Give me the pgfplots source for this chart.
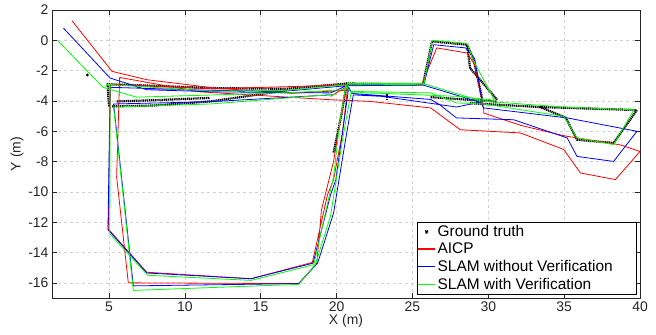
\documentclass[border=0pt]{standalone}
\usepackage{fontspec}
\setmainfont{Liberation Sans}
\usepackage{pgfplots}
\pgfplotsset{compat=1.18}
\definecolor{axgray}{RGB}{38,38,38}
\definecolor{gridgray}{RGB}{210,210,210}
\definecolor{mygreen}{RGB}{0,255,0}
\definecolor{myred}{RGB}{255,0,0}
\pgfplotsset{gt/.style={black, line width=2.2bp, dash pattern=on 1.2bp off 0.7bp}}
\begin{document}
\begin{tikzpicture}
\begin{axis}[
  scale only axis, width=588bp, height=288bp,
  xmin=1.24, xmax=40, ymin=-17, ymax=2,
  xtick={5,10,...,40}, ytick={-16,-14,...,2},
  tick align=inside, xtick pos=both, ytick pos=both,
  major tick length=5bp,
  grid=major, grid style={dashed, gridgray, line width=0.5pt},
  axis line style={axgray, line width=0.6pt},
  tick style={axgray, line width=0.6pt},
  ticklabel style={font=\fontsize{14}{16}\selectfont, text=axgray},
  /pgf/number format/assume math mode=true,
  xlabel={X (m)}, ylabel={Y (m)},
  label style={font=\fontsize{14}{16}\selectfont, text=axgray},
  xlabel style={yshift=4bp}, ylabel style={yshift=-2bp},
  legend style={at={(1,0)}, anchor=south east, xshift=-3bp, yshift=3bp,
    font=\fontsize{15.5}{18}\selectfont, draw=black, line width=0.6pt,
    inner xsep=0bp, inner ysep=1.5bp, row sep=1.2bp},
  legend cell align=left,
  every axis plot/.append style={line join=round},
]
% Ground truth
\addplot[gt, legend image code/.code={\fill[black] (0.3cm,0cm) circle (1.1bp);}]
  coordinates {(4.85,-2.9) (8,-3.0) (11.7,-3.15) (16.7,-3.2) (20.68,-2.85) (25.7,-2.9) (26.29,-0.07) (28.6,-0.29) (28.8,-1.83) (30.58,-3.92)};
\addlegendentry{Ground truth}
\addplot[black, only marks, mark=*, mark size=1.2bp, forget plot] coordinates {(3.57,-2.29)};
\addplot[gt, forget plot] coordinates {(4.9,-2.9) (5.0,-4.4)};
\addplot[gt, forget plot] coordinates {(5.2,-4.36) (8,-4.3) (11.66,-4.03) (14,-3.7) (16.7,-3.3)};
\addplot[gt, forget plot] coordinates {(5.5,-4.03) (8,-3.95) (11.66,-3.8)};
\addplot[gt, forget plot] coordinates {(19.8,-7.4) (20.3,-5.0) (20.68,-2.8)};
\addplot[gt, forget plot] coordinates {(23.3,-3.5) (23.3,-4.0)};
\addplot[gt, forget plot] coordinates {(26.2,-3.75) (30.58,-4.05)};
\addplot[gt, forget plot] coordinates {(28.6,-0.29) (29.04,-1.28) (29.6,-3.9)};
\addplot[gt, forget plot] coordinates {(28.8,-4.15) (33.4,-4.4) (39.8,-4.6) (38.26,-6.77) (35.85,-6.56) (35.1,-5.1) (33.4,-4.4)};
% AICP
\addplot[myred, line width=0.8pt,
  legend image code/.code={\draw[myred, line width=1.2bp, solid] (0cm,0.4bp) -- (0.6cm,0.4bp);}] coordinates {
 (2.56,1.29) (5.2,-2.05) (7.5,-2.6) (12,-3.15) (17,-3.5) (20.6,-3.3) (20.75,-2.95)
 (20.4,-6) (19.8,-9.2) (19.4,-10.2) (18.4,-14.65) (14.35,-15.73) (7.49,-15.3) (4.95,-12.45)
 (5.1,-2.9) (11.7,-3.2) (20.6,-2.95) (25.6,-2.95) (26.6,-0.5) (28.6,-0.84) (29.1,-1.6)
 (29.7,-4.58) (29.7,-4.8) (32.1,-5.6) (35,-6.3) (38.7,-6.9) (40,-7.33) (38.38,-9.19)
 (36.07,-8.75) (34.97,-7.2) (32.11,-6.11) (28.15,-5.9) (26.2,-4.46) (22.2,-4.03) (19.6,-3.92)
 (11,-3.4) (5.7,-2.45) (5.5,-9) (6.27,-16.0) (17.5,-16.05) (18.7,-14.7) (19.0,-11.2)
 (19.8,-8) (20.6,-3.1) (19.6,-3.7)};
\addlegendentry{AICP}
% SLAM without verification
\addplot[blue, line width=0.8pt,
  legend image code/.code={\draw[blue, line width=1.2bp, solid] (0cm,0.4bp) -- (0.6cm,0.4bp);}] coordinates {
 (1.99,0.81) (5.07,-2.49) (7.49,-3.26) (12,-3.4) (17,-3.45) (19.6,-3.47) (20.75,-2.95)
 (25.7,-2.95) (29.5,-4.1) (29.7,-4.46) (35.2,-5.12) (39.8,-6.0) (38.26,-7.99) (35.85,-7.66)
 (35.2,-6.44) (31.67,-5.24) (27.9,-5.12) (26.8,-4.25) (26.2,-3.9) (21.0,-3.5) (20.8,-3.1)
 (20.4,-6) (19.95,-9.2) (19.6,-10.2) (18.45,-14.7) (14.35,-15.73) (7.49,-15.35) (4.93,-12.49)
 (5.07,-3.1) (11.7,-3.3) (16.7,-3.35) (20.6,-3.0) (25.75,-2.95) (26.4,-0.29) (28.5,-0.5)
 (29.1,-1.2) (29.6,-4.05) (27.9,-4.4) (23,-3.7) (21.1,-3.6) (20.6,-6.5) (19.8,-11.4)
 (18.75,-14.7) (17.5,-16.05) (6.6,-16.2) (5.3,-4.2) (11.7,-4.05) (19.6,-3.6)};
\addlegendentry{SLAM without Verification\rule{22bp}{0pt}}
% SLAM with verification
\addplot[mygreen, line width=0.8pt,
  legend image code/.code={\draw[mygreen, line width=1.2bp, solid] (0cm,0.4bp) -- (0.6cm,0.4bp);}] coordinates {
 (1.6,0.0) (4.6,-3.1) (6.8,-3.75) (12,-3.6) (17,-3.45) (20.6,-3.25) (20.7,-2.85)
 (25.7,-2.85) (29.5,-4.0) (34.9,-4.4) (39.6,-4.58) (38.26,-6.88) (35.85,-6.44) (34.97,-5.02)
 (29.7,-4.2) (27.9,-4.13) (26.2,-3.47) (20.9,-3.37) (20.6,-3.0) (20.2,-5.5) (19.8,-9.0)
 (19.55,-10.1) (18.5,-14.8) (14.35,-15.84) (7.55,-15.5) (5.05,-12.76) (5.07,-3.0) (4.8,-2.9)
 (11.7,-3.35) (16.7,-3.3) (20.5,-2.95) (25.75,-2.9) (26.3,0.0) (28.6,-0.2) (29.0,-1.3)
 (30.4,-3.95) (28,-3.7) (23,-3.5) (20.95,-3.45) (20.4,-6.5) (19.6,-11.6) (18.6,-14.8)
 (17.5,-16.1) (6.6,-16.5) (5.3,-4.4) (11.66,-4.2) (20,-3.55)};
\addlegendentry{SLAM with Verification}
\end{axis}
\pgfresetboundingbox
\path[use as bounding box] ([xshift=-52bp,yshift=-37bp]current axis.south west) rectangle ([xshift=16bp,yshift=10bp]current axis.north east);
\end{tikzpicture}
\end{document}
